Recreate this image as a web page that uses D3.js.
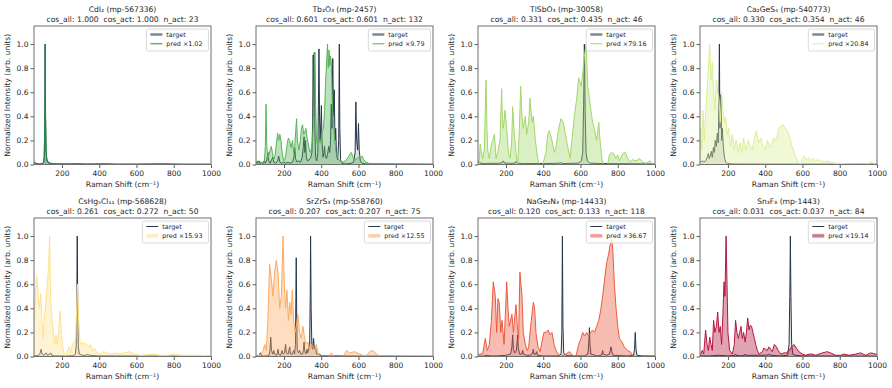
<!DOCTYPE html>
<html>
<head>
<meta charset="utf-8">
<script src="https://cdn.jsdelivr.net/npm/d3@7"></script>
<style>
  body { margin: 0; background: #fff; }
  svg text { font-family: "DejaVu Sans", sans-serif; fill: #262626; }
</style>
</head>
<body>
<div id="chart"></div>
<script>
// panel labels and scores
var formulas = ["CdI₂", "Tb₂O₃", "TlSbO₃", "Ca₂GeS₄", "CsHg₅Cl₁₁", "SrZrS₃", "NaGe₂N₃", "Sn₃F₈"];
var mpIds = ["mp-567336", "mp-2457", "mp-30058", "mp-540773", "mp-568628", "mp-558760", "mp-14433", "mp-1443"];
var cosAll = ["1.000", "0.601", "0.331", "0.330", "0.261", "0.207", "0.120", "0.031"];
var cosAct = ["1.000", "0.601", "0.435", "0.354", "0.272", "0.207", "0.133", "0.037"];
var nAct = [23, 132, 46, 46, 50, 75, 118, 84];
var predScale = ["1.02", "9.79", "79.16", "20.84", "15.93", "12.55", "36.67", "19.14"];
var xTicks = [200, 400, 600, 800, 1000];
var yTicks = [0, 0.2, 0.4, 0.6, 0.8, 1.0];

// spectra: [raman shift, normalized intensity]
var cdi2Target = [[50,0.02],[56,0.012],[65,0.006],[80,0.004],[95,0.006],[102,0.02],[105,0.06],[108,0.35],[110,1.0],[112,0.4],[115,0.1],[119,0.035],[126,0.015],[140,0.006],[170,0.004],[250,0.003],[400,0.002],[1000,0.001]];
var cdi2Pred = [[50,0.025],[56,0.014],[65,0.007],[80,0.005],[95,0.007],[102,0.022],[105,0.07],[108,0.38],[110,1.0],[112,0.42],[115,0.11],[119,0.045],[126,0.02],[140,0.01],[170,0.006],[230,0.005],[280,0.008],[330,0.004],[420,0.007],[500,0.003],[600,0.004],[740,0.007],[850,0.003],[1000,0.003]];

var tb2o3Target = [[50,0.005],[56,0.025],[60,0.01],[66,0.03],[72,0.008],[80,0.02],[86,0.005],[94,0.03],[100,0.01],[108,0.04],[114,0.1],[118,0.03],[126,0.01],[134,0.04],[140,0.06],[146,0.02],[156,0.01],[166,0.03],[172,0.07],[178,0.02],[188,0.01],[198,0.02],[210,0.01],[222,0.02],[232,0.01],[246,0.02],[254,0.06],[258,0.14],[262,0.05],[270,0.02],[280,0.03],[290,0.02],[298,0.06],[304,0.15],[308,0.23],[312,0.1],[316,0.2],[320,0.06],[326,0.03],[336,0.04],[344,0.06],[350,0.1],[354,0.35],[357,0.91],[360,0.4],[363,0.93],[366,0.3],[370,0.06],[376,0.03],[382,0.1],[385,0.5],[388,0.96],[391,0.4],[394,0.2],[398,0.35],[401,0.49],[404,0.2],[410,0.06],[415,0.1],[418,0.15],[421,0.08],[428,0.05],[434,0.08],[440,0.15],[446,0.1],[450,0.2],[454,0.5],[458,0.3],[462,0.88],[466,0.4],[470,0.62],[474,0.2],[478,0.3],[482,0.08],[488,0.04],[494,0.2],[497,1.0],[500,0.3],[504,0.04],[512,0.01],[530,0.005],[560,0.01],[574,0.02],[582,0.1],[586,0.52],[590,0.2],[596,0.12],[600,0.34],[604,0.12],[610,0.03],[620,0.01],[640,0.005],[1000,0.002]];
var tb2o3Pred = [[50,0.01],[58,0.03],[66,0.01],[75,0.02],[85,0.01],[95,0.03],[100,0.15],[104,0.5],[108,0.15],[114,0.05],[120,0.08],[126,0.12],[132,0.15],[138,0.1],[145,0.04],[152,0.07],[160,0.18],[166,0.26],[172,0.2],[178,0.25],[184,0.2],[190,0.1],[196,0.05],[202,0.03],[210,0.08],[218,0.18],[224,0.22],[230,0.2],[238,0.14],[246,0.2],[252,0.1],[258,0.15],[264,0.3],[268,0.38],[272,0.2],[280,0.12],[288,0.2],[294,0.3],[300,0.33],[306,0.25],[312,0.27],[318,0.3],[324,0.22],[330,0.18],[336,0.12],[342,0.1],[348,0.14],[354,0.2],[360,0.5],[364,0.9],[367,0.93],[370,0.5],[375,0.2],[382,0.15],[388,0.2],[394,0.18],[400,0.22],[406,0.28],[412,0.3],[418,0.45],[424,0.7],[430,0.88],[434,1.0],[438,0.8],[442,0.95],[446,0.82],[450,0.9],[454,0.85],[458,0.62],[462,0.45],[466,0.35],[472,0.2],[480,0.1],[490,0.05],[500,0.03],[515,0.02],[530,0.03],[545,0.06],[555,0.09],[562,0.1],[570,0.06],[580,0.04],[590,0.05],[600,0.06],[610,0.05],[620,0.07],[628,0.04],[640,0.02],[655,0.01],[670,0.005],[1000,0.002]];

var tlsbo3Target = [[50,0.01],[57,0.02],[66,0.01],[90,0.008],[120,0.01],[160,0.01],[180,0.015],[186,0.03],[192,0.012],[220,0.01],[248,0.01],[254,0.025],[260,0.01],[300,0.008],[400,0.008],[480,0.01],[495,0.015],[505,0.008],[560,0.01],[590,0.012],[605,0.03],[612,0.1],[617,0.5],[621,1.0],[625,0.45],[630,0.1],[637,0.03],[650,0.012],[700,0.008],[1000,0.005]];
var tlsbo3Pred = [[50,0.0],[57,0.05],[62,0.17],[66,0.12],[75,0.05],[84,0.12],[88,0.4],[93,0.7],[98,0.3],[102,0.12],[111,0.05],[120,0.15],[129,0.2],[138,0.25],[147,0.05],[156,0.1],[168,0.2],[172,0.4],[177,0.63],[182,0.35],[186,0.3],[195,0.45],[204,0.3],[213,0.1],[222,0.05],[231,0.2],[236,0.48],[245,0.25],[254,0.1],[263,0.0],[272,0.3],[279,0.65],[286,0.4],[293,0.3],[304,0.4],[311,0.25],[322,0.35],[329,0.55],[340,0.35],[347,0.4],[358,0.2],[370,0.05],[379,0.0],[397,0.0],[415,0.1],[424,0.25],[433,0.28],[447,0.2],[460,0.1],[469,0.15],[483,0.3],[495,0.38],[508,0.35],[519,0.25],[531,0.15],[544,0.05],[554,0.2],[567,0.4],[580,0.55],[590,0.72],[598,0.68],[603,0.65],[612,0.75],[621,0.9],[630,1.0],[639,0.65],[648,0.55],[656,0.45],[665,0.35],[674,0.3],[687,0.2],[698,0.35],[705,0.2],[715,0.05],[723,0.0],[746,0.0],[755,0.08],[767,0.1],[778,0.09],[791,0.05],[800,0.08],[809,0.03],[826,0.09],[841,0.1],[853,0.05],[866,0.02],[880,0.04],[898,0.03],[916,0.05],[934,0.02],[952,0.01],[973,0.03],[987,0.005],[1000,0.005]];

var ca2ges4Target = [[50,0.015],[54,0.02],[63,0.03],[71,0.02],[80,0.03],[89,0.06],[95,0.09],[100,0.05],[105,0.07],[111,0.11],[116,0.06],[122,0.14],[127,0.1],[132,0.2],[138,0.15],[143,0.26],[148,0.18],[152,0.6],[154,1.0],[157,0.3],[161,0.45],[163,0.58],[166,0.2],[170,0.3],[175,0.15],[181,0.06],[188,0.02],[198,0.008],[224,0.004],[400,0.003],[820,0.003],[1000,0.004]];
var ca2ges4Pred = [[50,0.1],[54,0.3],[59,0.12],[66,0.45],[73,0.2],[80,0.42],[88,0.62],[95,0.8],[102,1.0],[109,0.7],[116,0.85],[123,0.6],[130,0.45],[138,0.7],[145,0.6],[152,0.55],[159,0.35],[166,0.6],[173,0.45],[181,0.35],[188,0.4],[195,0.25],[204,0.3],[214,0.15],[224,0.25],[234,0.12],[244,0.2],[254,0.1],[264,0.18],[274,0.1],[284,0.22],[296,0.12],[308,0.2],[320,0.15],[330,0.12],[340,0.2],[352,0.28],[364,0.18],[376,0.22],[388,0.15],[400,0.12],[412,0.2],[424,0.14],[436,0.18],[448,0.22],[460,0.2],[472,0.3],[484,0.32],[496,0.33],[508,0.3],[520,0.28],[532,0.22],[544,0.15],[556,0.1],[568,0.05],[580,0.02],[590,0.0],[600,0.05],[610,0.07],[620,0.04],[632,0.06],[644,0.03],[656,0.05],[670,0.03],[684,0.04],[700,0.03],[716,0.02],[732,0.03],[748,0.02],[764,0.015],[780,0.01],[800,0.01],[820,0.008],[840,0.005],[870,0.005],[900,0.005],[940,0.005],[960,0.015],[968,0.025],[976,0.015],[990,0.006],[1000,0.004]];

var cshgclTarget = [[50,0.01],[60,0.005],[75,0.01],[84,0.03],[88,0.06],[92,0.03],[100,0.01],[110,0.02],[116,0.03],[122,0.01],[135,0.02],[140,0.03],[146,0.01],[160,0.005],[200,0.005],[260,0.006],[272,0.02],[277,0.1],[280,0.5],[282,1.0],[285,0.4],[288,0.08],[294,0.02],[310,0.01],[330,0.01],[340,0.02],[346,0.01],[400,0.005],[1000,0.003]];
var cshgclPred = [[50,0.3],[57,0.5],[64,0.67],[71,0.55],[79,0.4],[86,0.52],[93,0.3],[100,0.15],[107,0.35],[114,0.45],[122,0.6],[129,0.78],[134,1.0],[139,0.5],[147,0.3],[154,0.2],[161,0.1],[168,0.18],[175,0.1],[182,0.2],[190,0.38],[197,0.2],[204,0.08],[211,0.03],[220,0.0],[229,0.05],[238,0.08],[247,0.03],[256,0.1],[265,0.12],[274,0.15],[283,0.6],[290,0.3],[297,0.12],[304,0.1],[311,0.12],[318,0.1],[327,0.11],[336,0.09],[345,0.08],[354,0.1],[363,0.05],[372,0.07],[390,0.03],[408,0.02],[426,0.04],[440,0.03],[461,0.02],[488,0.03],[506,0.02],[533,0.03],[560,0.04],[587,0.02],[622,0.01],[658,0.015],[694,0.02],[730,0.01],[766,0.01],[801,0.02],[837,0.01],[891,0.01],[944,0.01],[1000,0.005]];

var srzrs3Target = [[50,0.005],[62,0.005],[68,0.01],[73,0.03],[78,0.01],[90,0.003],[110,0.005],[120,0.01],[125,0.05],[129,0.16],[133,0.05],[140,0.02],[145,0.05],[150,0.02],[160,0.01],[165,0.03],[168,0.06],[172,0.02],[182,0.01],[190,0.05],[195,0.02],[203,0.03],[209,0.1],[213,0.03],[222,0.02],[231,0.08],[235,0.02],[245,0.02],[252,0.05],[257,0.02],[262,0.1],[264,0.5],[266,0.82],[268,0.4],[271,0.06],[278,0.03],[284,0.05],[290,0.02],[300,0.02],[305,0.06],[308,0.12],[311,0.05],[318,0.02],[324,0.06],[328,0.03],[334,0.08],[338,0.1],[341,0.5],[343,1.0],[346,0.4],[350,0.08],[355,0.06],[359,0.15],[363,0.06],[370,0.07],[375,0.02],[392,0.02],[400,0.005],[1000,0.002]];
var srzrs3Pred = [[50,0.0],[78,0.02],[88,0.05],[97,0.1],[105,0.05],[114,0.3],[123,0.77],[132,0.65],[141,0.5],[150,0.7],[159,0.8],[168,0.7],[177,0.4],[186,0.5],[195,1.0],[202,0.6],[209,0.4],[216,0.55],[224,0.3],[231,0.45],[238,0.35],[245,0.55],[252,0.3],[259,0.2],[266,0.25],[275,0.35],[284,0.2],[293,0.15],[302,0.25],[311,0.15],[320,0.1],[329,0.12],[338,0.05],[347,0.1],[356,0.08],[365,0.05],[374,0.1],[383,0.03],[392,0.0],[440,0.0],[454,0.03],[468,0.0],[520,0.0],[535,0.05],[553,0.03],[580,0.04],[606,0.02],[640,0.0],[660,0.04],[678,0.05],[696,0.02],[720,0.0],[1000,0.0]];

var nage2n3Target = [[50,0.003],[80,0.003],[93,0.01],[120,0.005],[150,0.005],[200,0.01],[225,0.02],[232,0.08],[236,0.18],[240,0.06],[248,0.03],[256,0.05],[260,0.12],[263,0.18],[266,0.07],[274,0.02],[285,0.02],[290,0.05],[294,0.02],[310,0.01],[330,0.01],[340,0.02],[344,0.04],[347,0.06],[351,0.02],[360,0.02],[365,0.04],[369,0.01],[400,0.005],[480,0.005],[496,0.02],[500,0.2],[503,1.0],[506,0.25],[510,0.03],[520,0.01],[560,0.005],[620,0.005],[640,0.02],[645,0.12],[648,0.24],[651,0.1],[656,0.02],[690,0.005],[712,0.01],[716,0.03],[719,0.05],[722,0.02],[740,0.01],[755,0.02],[760,0.05],[764,0.08],[768,0.04],[775,0.01],[850,0.005],[885,0.01],[890,0.06],[894,0.2],[898,0.06],[903,0.01],[930,0.005],[1000,0.003]];
var nage2n3Pred = [[50,0.0],[57,0.02],[75,0.02],[89,0.15],[100,0.05],[111,0.1],[122,0.3],[132,0.62],[143,0.5],[150,0.2],[157,0.48],[164,0.45],[172,0.2],[179,0.3],[190,0.1],[197,0.35],[204,0.62],[211,0.4],[218,0.25],[225,0.3],[232,0.35],[240,0.2],[247,0.32],[254,0.43],[261,0.25],[268,0.15],[275,0.7],[286,0.5],[293,0.2],[304,0.1],[315,0.05],[322,0.08],[336,0.3],[347,0.45],[354,0.4],[361,0.2],[372,0.08],[383,0.04],[393,0.12],[404,0.2],[415,0.2],[426,0.22],[436,0.18],[447,0.2],[458,0.1],[469,0.05],[479,0.02],[490,0.0],[522,0.02],[540,0.04],[558,0.01],[576,0.0],[590,0.1],[603,0.15],[612,0.2],[622,0.17],[633,0.2],[644,0.17],[655,0.2],[665,0.22],[676,0.2],[687,0.25],[698,0.3],[708,0.38],[719,0.5],[730,0.65],[741,0.78],[751,0.85],[762,0.95],[767,0.97],[773,0.9],[782,0.6],[791,0.4],[800,0.25],[809,0.15],[823,0.12],[835,0.08],[853,0.05],[866,0.04],[880,0.01],[898,0.0],[1000,0.005]];

var sn3f8Target = [[50,0.005],[100,0.005],[150,0.01],[200,0.005],[238,0.01],[241,0.02],[244,0.01],[270,0.005],[288,0.01],[291,0.02],[294,0.01],[350,0.01],[400,0.01],[420,0.015],[425,0.02],[430,0.01],[480,0.005],[520,0.01],[528,0.1],[532,0.5],[535,1.0],[538,0.5],[542,0.1],[548,0.02],[560,0.01],[600,0.005],[1000,0.003]];
var sn3f8Pred = [[50,0.0],[54,0.02],[62,0.05],[70,0.02],[80,0.22],[88,0.1],[95,0.05],[102,0.16],[109,0.1],[116,0.05],[123,0.3],[130,0.2],[138,0.25],[145,0.37],[152,0.2],[159,0.25],[166,0.1],[173,0.35],[179,0.62],[184,0.5],[190,1.0],[195,0.6],[200,0.2],[209,0.05],[224,0.02],[234,0.1],[241,0.3],[248,0.2],[256,0.15],[263,0.2],[270,0.25],[277,0.15],[284,0.2],[292,0.12],[299,0.2],[306,0.32],[313,0.22],[320,0.26],[327,0.25],[334,0.2],[342,0.15],[349,0.1],[358,0.05],[367,0.02],[385,0.04],[393,0.07],[402,0.06],[411,0.05],[420,0.08],[429,0.06],[438,0.04],[449,0.1],[460,0.08],[470,0.05],[483,0.02],[501,0.03],[513,0.03],[528,0.05],[542,0.08],[554,0.1],[567,0.07],[581,0.04],[599,0.02],[617,0.01],[635,0.02],[653,0.02],[671,0.01],[707,0.03],[733,0.04],[751,0.03],[778,0.01],[805,0.01],[823,0.02],[850,0.01],[885,0.02],[912,0.03],[939,0.01],[966,0.03],[993,0.02],[1000,0.02]];

var targets = [cdi2Target, tb2o3Target, tlsbo3Target, ca2ges4Target, cshgclTarget, srzrs3Target, nage2n3Target, sn3f8Target];
var preds = [cdi2Pred, tb2o3Pred, tlsbo3Pred, ca2ges4Pred, cshgclPred, srzrs3Pred, nage2n3Pred, sn3f8Pred];

// styling
var predColors = ["#23894a", "#55b558", "#a3d66a", "#dcee98", "#fde28f", "#fcab62", "#ea5a3f", "#b3173e"];
var targetColor = "#27364b";

var width = 892, height = 388;
var panelW = 177, panelH = 138.5;
var lefts = [34, 256, 478, 700];
var tops = [26, 218];
var fontSize = 7.6;
var gap = "\u00a0\u00a0";

var svg = d3.select("#chart").append("svg")
  .attr("width", width)
  .attr("height", height);

var x = d3.scaleLinear().domain([50, 1000]).range([0, panelW]);
var y = d3.scaleLinear().domain([0, 1.15]).range([panelH, 0]);

var line = d3.line().x(function(d) { return x(d[0]); }).y(function(d) { return y(d[1]); });
var area = d3.area().x(function(d) { return x(d[0]); }).y0(y(0)).y1(function(d) { return y(d[1]); });

for (var i = 0; i < 8; i ++) {
  var row = Math.floor(i / 4), col = i % 4;
  var g = svg.append("g").attr("transform", "translate(" + lefts[col] + "," + tops[row] + ")");

  g.append("clipPath").attr("id", "clip" + i)
    .append("rect").attr("width", panelW).attr("height", panelH);

  var plot = g.append("g").attr("clip-path", "url(#clip" + i + ")");

  // target spectrum
  plot.append("path").datum(targets[i])
    .attr("d", area).attr("fill", targetColor).attr("fill-opacity", 0.15);
  plot.append("path").datum(targets[i])
    .attr("d", line).attr("fill", "none")
    .attr("stroke", targetColor).attr("stroke-width", 1).attr("stroke-linejoin", "round");

  // predicted spectrum
  plot.append("path").datum(preds[i])
    .attr("d", area).attr("fill", predColors[i]).attr("fill-opacity", 0.4);
  plot.append("path").datum(preds[i])
    .attr("d", line).attr("fill", "none")
    .attr("stroke", predColors[i]).attr("stroke-width", 1).attr("stroke-linejoin", "round");

  // axes
  var xAxis = g.append("g").attr("transform", "translate(0," + panelH + ")")
    .call(d3.axisBottom(x).tickValues(xTicks).tickSize(3.5).tickPadding(2.5).tickFormat(d3.format("d")));
  var yAxis = g.append("g")
    .call(d3.axisLeft(y).tickValues(yTicks).tickSize(3.5).tickPadding(2).tickFormat(d3.format(".1f")));
  [xAxis, yAxis].forEach(function(a) {
    a.select(".domain").remove();
    a.selectAll("line").attr("stroke", "#333").attr("stroke-width", 0.8);
    a.selectAll("text").attr("font-size", 7.5).attr("fill", "#262626")
      .attr("font-family", "DejaVu Sans");
  });

  // frame
  g.append("rect").attr("width", panelW).attr("height", panelH)
    .attr("fill", "none").attr("stroke", "#6f6f6f").attr("stroke-width", 1);

  // titles
  g.append("text").attr("x", panelW / 2).attr("y", -14.3)
    .attr("text-anchor", "middle").attr("font-size", fontSize)
    .text(formulas[i] + " (" + mpIds[i] + ")");
  g.append("text").attr("x", panelW / 2).attr("y", -4.2)
    .attr("text-anchor", "middle").attr("font-size", fontSize)
    .text("cos_all: " + cosAll[i] + gap + "cos_act: " + cosAct[i] + gap + "n_act: " + nAct[i]);

  // axis labels
  g.append("text").attr("x", panelW / 2).attr("y", panelH + 22.5)
    .attr("text-anchor", "middle").attr("font-size", fontSize)
    .text("Raman Shift (cm⁻¹)");
  g.append("text").attr("transform", "rotate(-90)")
    .attr("x", -panelH / 2).attr("y", -24.5)
    .attr("text-anchor", "middle").attr("font-size", fontSize)
    .text("Normalized Intensity (arb. units)");

  // legend
  var leg = g.append("g");
  var box = leg.append("rect").attr("y", 3).attr("height", 22).attr("rx", 2)
    .attr("fill", "#fff").attr("fill-opacity", 0.8)
    .attr("stroke", "#cfcfcf").attr("stroke-width", 0.8);
  var t1 = leg.append("text").attr("y", 10.7).attr("font-size", 6.4).text("target");
  var t2 = leg.append("text").attr("y", 20).attr("font-size", 6.4).text("pred ×" + predScale[i]);
  var textW = Math.max(t1.node().getComputedTextLength(), t2.node().getComputedTextLength());
  var bx = panelW - 2.5 - (textW + 26);
  box.attr("x", bx).attr("width", textW + 26);
  t1.attr("x", bx + 20);
  t2.attr("x", bx + 20);
  if (row == 0) {
    leg.append("line").attr("x1", bx + 4).attr("x2", bx + 16).attr("y1", 8.5).attr("y2", 8.5)
      .attr("stroke", targetColor).attr("stroke-opacity", 0.6).attr("stroke-width", 2.5);
    leg.append("line").attr("x1", bx + 4).attr("x2", bx + 16).attr("y1", 17.8).attr("y2", 17.8)
      .attr("stroke", predColors[i]).attr("stroke-width", 1);
  } else {
    leg.append("line").attr("x1", bx + 4).attr("x2", bx + 16).attr("y1", 8.5).attr("y2", 8.5)
      .attr("stroke", targetColor).attr("stroke-width", 1);
    leg.append("rect").attr("x", bx + 4).attr("width", 12).attr("y", 15.8).attr("height", 4)
      .attr("fill", predColors[i]).attr("fill-opacity", 0.45);
    leg.append("line").attr("x1", bx + 4).attr("x2", bx + 16).attr("y1", 17.8).attr("y2", 17.8)
      .attr("stroke", predColors[i]).attr("stroke-opacity", 0.6).attr("stroke-width", 0.8);
  }
}
</script>
</body>
</html>
